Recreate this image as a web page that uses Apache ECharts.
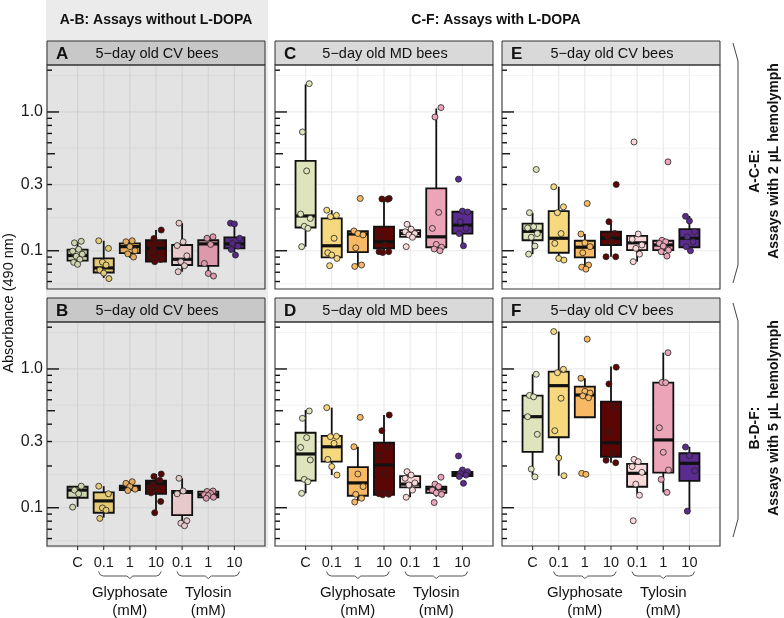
<!DOCTYPE html>
<html><head><meta charset="utf-8">
<script src="https://cdn.jsdelivr.net/npm/echarts@6/dist/echarts.min.js"></script>
<style>html,body{margin:0;padding:0;background:#fff}#c{width:784px;height:618px}</style>
</head><body><div id="c"></div>
<script>
// ---------- data ----------
const categories = ['C', '0.1', '1', '10', '0.1', '1', '10'];
const groups = [['Glyphosate', 2, 4], ['Tylosin', 5, 7]];
const yBreaks = [0.1, 0.3, 1.0];
const yBreakLabels = ['0.1', '0.3', '1.0'];
const yMinorBreaks = [0.0578, 0.173, 0.548, 1.83];
const logTickValues = [0.06, 0.07, 0.08, 0.09, 0.1, 0.2, 0.3, 0.4, 0.5, 0.6, 0.7, 0.8, 0.9, 1, 2];
const panelLetters = ['A', 'B', 'C', 'D', 'E', 'F'];
const panelTitles = ['5−day old CV bees', '5−day old CV bees', '5−day old MD bees', '5−day old MD bees', '5−day old CV bees', '5−day old CV bees'];
const colors = ['#dfe4bd', '#f6d97f', '#f7b964', '#5c0505', '#f8d8d8', '#eba4b8', '#5b2c8f'];

// box stats per category: [whisker min, Q1, median, Q3, whisker max]
const boxA = [[0.0787, 0.0848, 0.0923, 0.102, 0.116], [0.0636, 0.0697, 0.0752, 0.088, 0.118], [0.089, 0.096, 0.107, 0.113, 0.118], [0.0834, 0.0834, 0.104, 0.119, 0.141], [0.0706, 0.0789, 0.0868, 0.110, 0.158], [0.0668, 0.0777, 0.112, 0.119, 0.128], [0.0976, 0.104, 0.112, 0.125, 0.158]];
const ptsA = [[0.117, 0.114, 0.1025, 0.0993, 0.0944, 0.0912, 0.0867, 0.0825, 0.0798], [0.118, 0.104, 0.0828, 0.0789, 0.0726, 0.069, 0.063], [0.118, 0.116, 0.107, 0.100, 0.095, 0.090], [0.141, 0.1226, 0.113, 0.104, 0.0965, 0.0915, 0.0865, 0.0834], [0.158, 0.116, 0.109, 0.0919, 0.0834, 0.078, 0.0706], [0.126, 0.123, 0.111, 0.081, 0.0686, 0.0657], [0.158, 0.156, 0.123, 0.113, 0.108, 0.102, 0.093]];

const boxB = [[0.1017, 0.118, 0.134, 0.1417, 0.1417], [0.085, 0.092, 0.112, 0.129, 0.143], [0.133, 0.134, 0.139, 0.144, 0.154], [0.092, 0.126, 0.150, 0.157, 0.175], [0.075, 0.0886, 0.129, 0.132, 0.163], [0.117, 0.1186, 0.124, 0.1307, 0.132], null];
const ptsB = [[0.143, 0.134, 0.126, 0.101], [0.143, 0.126, 0.0997, 0.096, 0.0838], [0.154, 0.150, 0.142, 0.136, 0.133], [0.175, 0.168, 0.158, 0.146, 0.134, 0.128, 0.111, 0.092], [0.163, 0.132, 0.126, 0.0806, 0.0774, 0.0742], [0.132, 0.131, 0.127, 0.124, 0.1225, 0.119, 0.117], null];

const boxC = [[0.107, 0.147, 0.178, 0.444, 1.58], [0.0896, 0.0896, 0.1086, 0.171, 0.196], [0.0771, 0.0976, 0.132, 0.1386, 0.1386], [0.0985, 0.104, 0.116, 0.149, 0.238], [0.125, 0.126, 0.133, 0.141, 0.152], [0.100, 0.106, 0.126, 0.281, 1.06], [0.1086, 0.133, 0.153, 0.191, 0.193]];
const ptsC = [[1.60, 0.718, 0.376, 0.184, 0.171, 0.150, 0.145, 0.107], [0.196, 0.180, 0.176, 0.123, 0.0967, 0.0931, 0.088, 0.078], [0.238, 0.139, 0.133, 0.130, 0.105, 0.0789, 0.0771], [0.238, 0.236, 0.235, 0.126, 0.110, 0.0985, 0.0985, 0.097], [0.155, 0.143, 0.137, 0.133, 0.130, 0.125, 0.107], [1.075, 0.92, 0.189, 0.145, 0.111, 0.106, 0.103, 0.100], [0.328, 0.193, 0.19, 0.162, 0.145, 0.133, 0.1086]];

const boxD = [[0.127, 0.157, 0.244, 0.347, 0.506], [0.172, 0.215, 0.275, 0.329, 0.526], [0.112, 0.122, 0.151, 0.196, 0.275], [0.124, 0.124, 0.203, 0.294, 0.466], [0.119, 0.140, 0.148, 0.169, 0.177], [0.120, 0.128, 0.137, 0.142, 0.150], [0.169, 0.169, 0.175, 0.181, 0.181]];
const ptsD = [[0.498, 0.441, 0.32, 0.272, 0.221, 0.160, 0.154, 0.127], [0.526, 0.327, 0.325, 0.291, 0.223, 0.198, 0.172], [0.448, 0.275, 0.175, 0.142, 0.125, 0.117, 0.110], [0.466, 0.359, 0.275, 0.237, 0.175, 0.126, 0.125, 0.124], [0.182, 0.172, 0.163, 0.151, 0.146, 0.134, 0.119], [0.166, 0.148, 0.142, 0.134, 0.128, 0.125, 0.109], [0.236, 0.187, 0.182, 0.177, 0.172, 0.168, 0.150]];

const boxE = [[0.0945, 0.119, 0.138, 0.157, 0.188], [0.0857, 0.0967, 0.123, 0.193, 0.289], [0.0747, 0.0896, 0.106, 0.118, 0.132], [0.0905, 0.110, 0.123, 0.137, 0.162], [0.0834, 0.101, 0.114, 0.128, 0.132], [0.093, 0.101, 0.110, 0.118, 0.119], [0.0985, 0.106, 0.123, 0.143, 0.178]];
const ptsE = [[0.385, 0.188, 0.149, 0.146, 0.133, 0.125, 0.108, 0.0945], [0.289, 0.207, 0.188, 0.133, 0.113, 0.088, 0.0857], [0.219, 0.132, 0.114, 0.107, 0.0967, 0.0789, 0.0762, 0.0737], [0.30, 0.162, 0.133, 0.126, 0.116, 0.0905, 0.0905], [0.608, 0.132, 0.121, 0.110, 0.104, 0.0945, 0.0834], [0.437, 0.119, 0.116, 0.113, 0.108, 0.101, 0.0985, 0.0915], [0.177, 0.164, 0.137, 0.126, 0.116, 0.107, 0.100]];

const boxF = [[0.167, 0.253, 0.453, 0.642, 0.916], [0.170, 0.322, 0.758, 0.957, 1.86], [0.449, 0.449, 0.649, 0.745, 0.857], [0.211, 0.233, 0.294, 0.581, 1.04], [0.125, 0.1417, 0.177, 0.207, 0.215], [0.129, 0.179, 0.308, 0.797, 1.31], [0.0947, 0.156, 0.209, 0.247, 0.275]];
const ptsF = [[0.916, 0.645, 0.63, 0.453, 0.338, 0.190, 0.167], [1.86, 0.995, 0.94, 0.615, 0.359, 0.229, 0.170], [1.64, 0.857, 0.69, 0.67, 0.64, 0.62, 0.177, 0.174], [1.03, 0.78, 0.529, 0.353, 0.244, 0.22, 0.211], [0.223, 0.215, 0.198, 0.180, 0.148, 0.123, 0.0806], [1.31, 0.80, 0.797, 0.377, 0.251, 0.187, 0.160, 0.129], [0.274, 0.237, 0.185, 0.0945]];

// ---------- layout / style ----------
const FONT = '"Liberation Sans", Arial, Helvetica, sans-serif';
const COL_LEFT = [47, 275, 502], PLOT_W = 218;
const ROW_TOP = [65, 322], PLOT_H = 224, STRIP_H = 24;
const XMIN = -0.17, XMAX = 8.17, YMIN = 0.053, YMAX = 2.18;
const BOX_HALF = 0.385;
const jitter = [0.14, -0.12, 0.04, -0.19, 0.18, -0.05, 0.09, -0.15, 0.0, 0.2, -0.08];

const panels = [
  { box: boxA, pts: ptsA, col: 0, row: 0 },
  { box: boxB, pts: ptsB, col: 0, row: 1 },
  { box: boxC, pts: ptsC, col: 1, row: 0 },
  { box: boxD, pts: ptsD, col: 1, row: 1 },
  { box: boxE, pts: ptsE, col: 2, row: 0 },
  { box: boxF, pts: ptsF, col: 2, row: 1 }
];

function shade(hex, f) {
  const n = parseInt(hex.slice(1), 16);
  const r = Math.round(((n >> 16) & 255) * f), g = Math.round(((n >> 8) & 255) * f), b = Math.round((n & 255) * f);
  return 'rgb(' + r + ',' + g + ',' + b + ')';
}
function xPix(col, v) { return COL_LEFT[col] + (v - XMIN) / (XMAX - XMIN) * PLOT_W; }
function txt(x, y, text, font, extra) {
  return Object.assign({ type: 'text', x: x, y: y, z: 10, silent: true, style: { text: text, font: font, fill: '#111', textAlign: 'center', align: 'center', textVerticalAlign: 'middle', verticalAlign: 'middle' } }, extra || {});
}

const grids = [], xAxes = [], yAxes = [], series = [], graphics = [];

// grey backdrop of the A-B column
graphics.push({ type: 'rect', z: -100, silent: true, shape: { x: 46, y: 0, width: 222, height: 548 }, style: { fill: '#ebebeb' } });
graphics.push(txt(156, 20, 'A-B: Assays without L-DOPA', 'bold 14px ' + FONT));
graphics.push(txt(496, 20, 'C-F: Assays with L-DOPA', 'bold 14px ' + FONT));
graphics.push(txt(9, 303, 'Absorbance (490 nm)', '14.5px ' + FONT, { rotation: Math.PI / 2 }));

// right-side braces and labels
[[43, 283, 'A-C-E:', 'Assays with 2 µL hemolymph'], [303, 537, 'B-D-F:', 'Assays with 5 µL hemolymph']].forEach(([t, b, l1, l2]) => {
  graphics.push({ type: 'polyline', z: 10, silent: true, shape: { points: [[733, t], [738, t + 18], [738, b - 18], [733, b]] }, style: { stroke: '#444', lineWidth: 1, fill: null } });
  const cy = (t + b) / 2;
  graphics.push(txt(755, cy + 8, l1, 'bold 14px ' + FONT, { rotation: Math.PI / 2 }));
  graphics.push(txt(774, cy - 2, l2, 'bold 14px ' + FONT, { rotation: Math.PI / 2 }));
});

panels.forEach((p, k) => {
  const dim = p.col === 0;
  const left = COL_LEFT[p.col], top = ROW_TOP[p.row];
  const cols = colors.map(c => dim ? shade(c, 0.93) : c);
  const gridCol = dim ? '#d4d4d4' : '#ebebeb';
  grids.push({ left: left, top: top, width: PLOT_W, height: PLOT_H, show: true, backgroundColor: dim ? '#e3e3e3' : '#ffffff', borderWidth: 0 });
  xAxes.push({ gridIndex: k, type: 'value', min: XMIN, max: XMAX, show: false });
  yAxes.push({ gridIndex: k, type: 'log', logBase: 10, min: YMIN, max: YMAX, show: false });

  // strip
  graphics.push({ type: 'rect', z: 5, silent: true, shape: { x: left, y: top - STRIP_H, width: PLOT_W, height: STRIP_H }, style: { fill: dim ? '#c8c8c8' : '#d9d9d9', stroke: '#333', lineWidth: 1 } });
  graphics.push(txt(left + 9, top - STRIP_H / 2 + 1, panelLetters[k], 'bold 17px ' + FONT, { style: { text: panelLetters[k], font: 'bold 17px ' + FONT, fill: '#111', textAlign: 'left', align: 'left', textVerticalAlign: 'middle', verticalAlign: 'middle' } }));
  graphics.push(txt(left + PLOT_W / 2 + 1, top - STRIP_H / 2 + 1, panelTitles[k], '14.5px ' + FONT));

  const base = { xAxisIndex: k, yAxisIndex: k, silent: true, animation: false };
  // horizontal grid lines
  series.push(Object.assign({}, base, {
    type: 'custom', z: 1,
    data: yBreaks.map(v => [1, v, 1]).concat(yMinorBreaks.map(v => [1, v, 0])),
    encode: { x: 0, y: 1 },
    renderItem: (params, api) => {
      const cs = params.coordSys; const y = api.coord([1, api.value(1)])[1];
      return { type: 'line', shape: { x1: cs.x, y1: y, x2: cs.x + cs.width, y2: y }, style: { stroke: gridCol, lineWidth: api.value(2) === 1 ? 1.2 : 0.6 } };
    }
  }));
  // vertical grid lines
  series.push(Object.assign({}, base, {
    type: 'custom', z: 1,
    data: categories.map((c, i) => [i + 1, 1]),
    encode: { x: 0, y: 1 },
    renderItem: (params, api) => {
      const cs = params.coordSys; const x = api.coord([api.value(0), 1])[0];
      return { type: 'line', shape: { x1: x, y1: cs.y, x2: x, y2: cs.y + cs.height }, style: { stroke: gridCol, lineWidth: 1.2 } };
    }
  }));
  // boxes
  const boxData = [];
  p.box.forEach((b, i) => { if (b) boxData.push([i + 1].concat(b)); });
  series.push(Object.assign({}, base, {
    type: 'custom', z: 3,
    data: boxData,
    encode: { x: 0, y: [1, 2, 3, 4, 5] },
    renderItem: (params, api) => {
      const x = api.value(0);
      const pt = v => api.coord([x, v]);
      const lo = pt(api.value(1)), q1 = pt(api.value(2)), md = pt(api.value(3)), q3 = pt(api.value(4)), hi = pt(api.value(5));
      const xl = api.coord([x - BOX_HALF, api.value(3)])[0], xr = api.coord([x + BOX_HALF, api.value(3)])[0];
      const st = { stroke: '#111', lineWidth: 1.8 };
      return { type: 'group', children: [
        { type: 'line', shape: { x1: lo[0], y1: lo[1], x2: q1[0], y2: q1[1] }, style: st },
        { type: 'line', shape: { x1: q3[0], y1: q3[1], x2: hi[0], y2: hi[1] }, style: st },
        { type: 'rect', shape: { x: xl, y: q3[1], width: xr - xl, height: Math.max(q1[1] - q3[1], 0.5) }, style: { fill: cols[x - 1], stroke: '#111', lineWidth: 1.8 } },
        { type: 'line', shape: { x1: xl, y1: md[1], x2: xr, y2: md[1] }, style: { stroke: '#111', lineWidth: 3.2 } }
      ] };
    }
  }));
  // points
  const sdata = [];
  p.pts.forEach((arr, i) => {
    if (!arr) return;
    arr.forEach((v, j) => sdata.push({ value: [i + 1 + jitter[(j + i * 3) % jitter.length], v], itemStyle: { color: cols[i] } }));
  });
  series.push(Object.assign({}, base, {
    type: 'scatter', z: 4, symbol: 'circle', symbolSize: 6,
    itemStyle: { borderColor: '#222', borderWidth: 0.8, opacity: 1 },
    data: sdata
  }));
  // log ticks
  series.push(Object.assign({}, base, {
    type: 'custom', z: 5,
    data: logTickValues.map(v => [XMIN, v]),
    encode: { x: 0, y: 1 },
    renderItem: (params, api) => {
      const v = api.value(1); const cs = params.coordSys;
      const lg = Math.log10(v), lg5 = Math.log10(v / 5);
      const len = Math.abs(lg - Math.round(lg)) < 1e-6 ? 12 : (Math.abs(lg5 - Math.round(lg5)) < 1e-6 ? 8 : 5);
      const y = api.coord([XMIN, v])[1];
      return { type: 'line', shape: { x1: cs.x, y1: y, x2: cs.x + len, y2: y }, style: { stroke: '#111', lineWidth: 1.4 } };
    }
  }));
  // panel border
  series.push(Object.assign({}, base, {
    type: 'custom', z: 6,
    data: [[XMIN, YMIN]],
    encode: { x: 0, y: 1 },
    renderItem: (params, api) => {
      const cs = params.coordSys;
      return { type: 'rect', shape: { x: cs.x, y: cs.y, width: cs.width, height: cs.height }, style: { fill: null, stroke: '#333', lineWidth: 1.1 } };
    }
  }));
  // y labels (first column)
  if (p.col === 0) {
    series.push(Object.assign({}, base, {
      type: 'custom', z: 6,
      data: yBreaks.map((v, i) => [XMIN, v, i]),
      encode: { x: 0, y: 1 },
      renderItem: (params, api) => {
        const cs = params.coordSys; const y = api.coord([XMIN, api.value(1)])[1];
        return { type: 'text', x: cs.x - 4, y: y, style: { text: yBreakLabels[api.value(2)], font: '16px ' + FONT, fill: '#1a1a1a', textAlign: 'right', align: 'right', textVerticalAlign: 'middle', verticalAlign: 'middle' } };
      }
    }));
  }
  // x labels and ticks (bottom row)
  if (p.row === 1) {
    series.push(Object.assign({}, base, {
      type: 'custom', z: 6,
      data: categories.map((c, i) => [i + 1, YMIN, i]),
      encode: { x: 0, y: 1 },
      renderItem: (params, api) => {
        const pt = api.coord([api.value(0), YMIN]);
        return { type: 'group', children: [
          { type: 'line', shape: { x1: pt[0], y1: pt[1], x2: pt[0], y2: pt[1] + 4 }, style: { stroke: '#333', lineWidth: 1.1 } },
          { type: 'text', x: pt[0], y: pt[1] + 17, style: { text: categories[api.value(2)], font: '14.5px ' + FONT, fill: '#1a1a1a', textAlign: 'center', align: 'center', textVerticalAlign: 'middle', verticalAlign: 'middle' } }
        ] };
      }
    }));
    groups.forEach(([name, a, b]) => {
      const x1 = xPix(p.col, a - 0.2), x2 = xPix(p.col, b + 0.2), xm = (x1 + x2) / 2, y0 = 571.5;
      graphics.push({ type: 'polyline', z: 10, silent: true, shape: { points: [[x1, y0], [x1 + 2, y0 + 3.5], [x1 + 5, y0 + 4.5], [xm - 3, y0 + 4.5], [xm, y0 + 7], [xm + 3, y0 + 4.5], [x2 - 5, y0 + 4.5], [x2 - 2, y0 + 3.5], [x2, y0]] }, style: { stroke: '#555', lineWidth: 1, fill: null } });
      graphics.push(txt(xm, 593, name, '15px ' + FONT));
      graphics.push(txt(xm, 611, '(mM)', '15px ' + FONT));
    });
  }
});

const chart = echarts.init(document.getElementById('c'), null, { renderer: 'canvas' });
chart.setOption({
  animation: false,
  backgroundColor: '#ffffff',
  grid: grids, xAxis: xAxes, yAxis: yAxes,
  series: series,
  graphic: { elements: graphics }
});
</script>
</body></html>
